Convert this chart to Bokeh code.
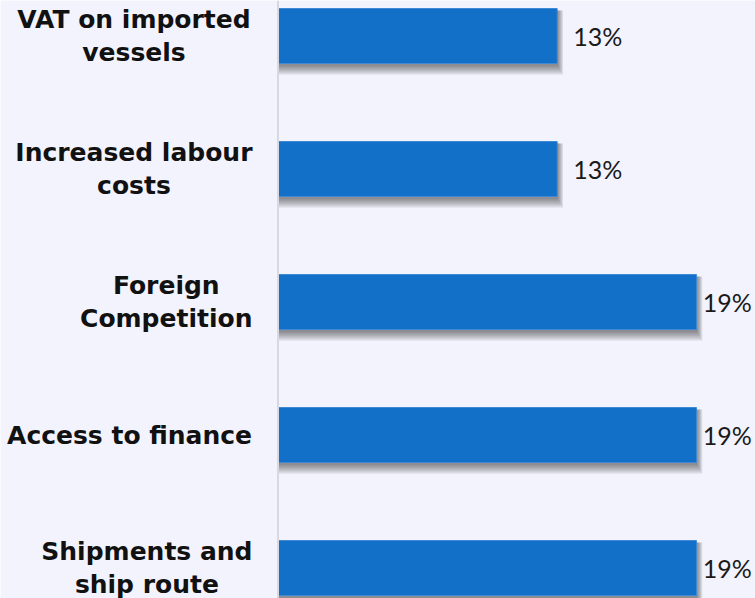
from bokeh.plotting import figure
from bokeh.models import ColumnDataSource, LabelSet, Range1d, Span
from bokeh.core.properties import value
from bokeh.embed import file_html
from bokeh.resources import INLINE

# ---- data ----
categories = ["VAT on imported\nvessels", "Increased labour\ncosts", "Foreign\nCompetition",
              "Access to finance", "Shipments and\nship route"]
values = [12.5, 12.5, 18.75, 18.75, 18.75]
value_labels = ["13%", "13%", "19%", "19%", "19%"]

# ---- layout / style ----
BG = "#f3f3fd"
BAR = "#1270c9"
W, H = 755, 598
AXIS_PX = 278              # pixel position of the value axis origin
PX_X = 418 / 18.75         # pixels per percentage point
X_START = -AXIS_PX / PX_X
X_END = (W - AXIS_PX) / PX_X
PX_Y = 133.0
Y_TOP = -35.5 / PX_Y
Y_BOT = Y_TOP + H / PX_Y
BAR_H = 55 / PX_Y
CAT_FONT = "DejaVu Sans"
CAT_SIZE = 25
VAL_SIZE = 25
LINE_SEP = 33 / PX_Y

# approximate DejaVu Sans Bold advance widths (units of 2048)
ADV = {' ': 713, 'A': 1585, 'C': 1505, 'F': 1296, 'I': 762, 'S': 1477, 'T': 1399, 'V': 1585,
       'a': 1382, 'b': 1466, 'c': 1214, 'd': 1466, 'e': 1389, 'f': 891, 'g': 1466, 'h': 1458,
       'i': 702, 'k': 1362, 'l': 702, 'm': 2134, 'n': 1458, 'o': 1407, 'p': 1466, 'r': 1010,
       's': 1219, 't': 979, 'u': 1458, 'v': 1335}


def text_w(s, size):
    return sum(ADV.get(ch, 1350) for ch in s) / 2048 * size


p = figure(width=W, height=H, output_backend="svg", toolbar_location=None,
           x_range=Range1d(X_START, X_END), y_range=Range1d(Y_BOT, Y_TOP),
           min_border_left=0, min_border_right=0, min_border_top=0, min_border_bottom=0)
p.background_fill_color = BG
p.border_fill_color = BG
p.outline_line_color = None
p.xgrid.grid_line_color = None
p.ygrid.grid_line_color = None
p.xaxis.visible = False
p.yaxis.visible = False

ys = list(range(len(categories)))

# soft shadow layers
for e in [0, 2, 4, 6, 8]:
    p.quad(left=[0] * len(values),
           right=[v + (1 + e * 0.6) / PX_X for v in values],
           top=[y - BAR_H / 2 + 2 / PX_Y for y in ys],
           bottom=[y + BAR_H / 2 + (3 + e) / PX_Y for y in ys],
           fill_color="black", fill_alpha=0.1, line_color=None)

p.hbar(y=ys, left=0, right=values, height=BAR_H, fill_color=BAR,
       line_color="#3f89d4", line_width=1)

# category axis line
p.add_layout(Span(location=-0.5 / PX_X, dimension="height", line_color="#d8d8e0", line_width=2))

# value labels
val_w = 1.95 * VAL_SIZE
offs = [min(16, (X_END - v) * PX_X - val_w - 4) for v in values]
vsrc = ColumnDataSource(dict(x=values, y=ys, t=value_labels, off=offs))
p.add_layout(LabelSet(x="x", y="y", text="t", source=vsrc, x_offset="off",
                      text_baseline="middle", text_align="left",
                      text_font=value("Lato"), text_font_size=f"{VAL_SIZE}px",
                      text_color="#1a1a1a"))

# category labels (lines centred, block right-aligned)
lx, ly, lt, lo = [], [], [], []
for i, cat in enumerate(categories):
    lines = cat.split("\n")
    n = len(lines)
    w = max(text_w(s, CAT_SIZE) for s in lines)
    for j, s in enumerate(lines):
        lx.append(0)
        ly.append(i + (j - (n - 1) / 2) * LINE_SEP)
        lt.append(s)
        lo.append(-26 - w / 2)
csrc = ColumnDataSource(dict(x=lx, y=ly, t=lt, off=lo))
p.add_layout(LabelSet(x="x", y="y", text="t", source=csrc, x_offset="off",
                      text_baseline="middle", text_align="center",
                      text_font=value(CAT_FONT), text_font_style="bold",
                      text_font_size=f"{CAT_SIZE}px", text_color="#111111"))

open("out.html", "w").write(file_html(p, INLINE))
